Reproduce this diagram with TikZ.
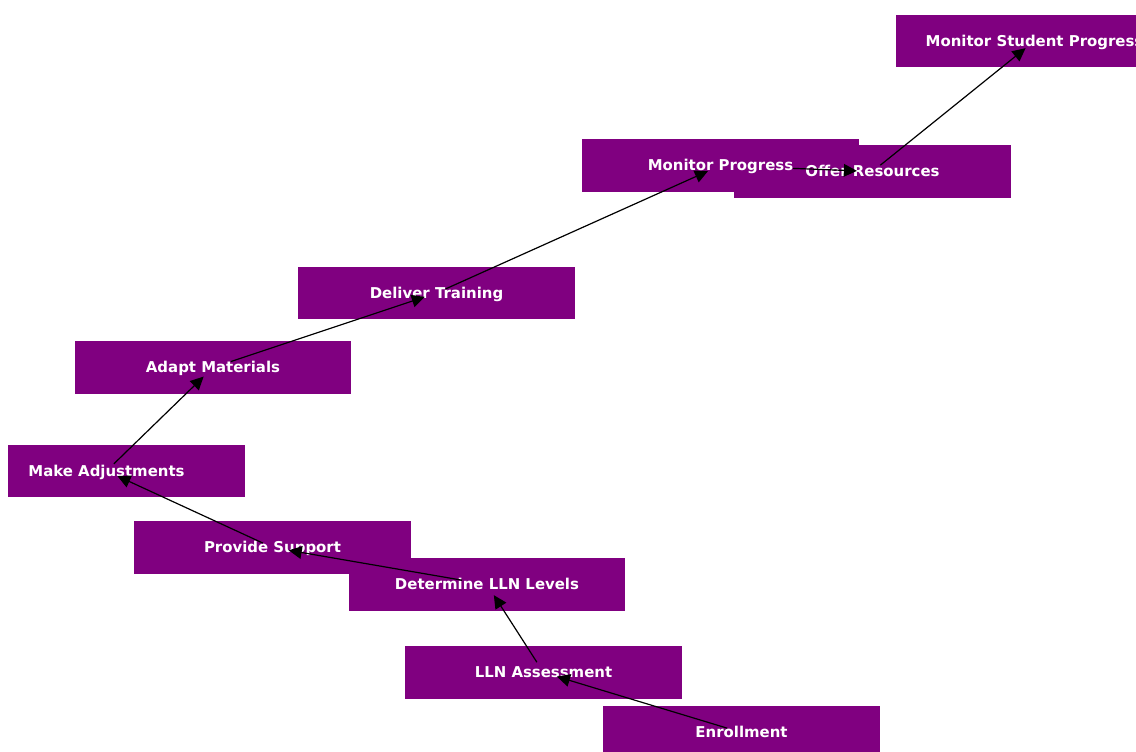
\documentclass[tikz,border=0pt]{standalone}
\usepackage{fontspec}
\setmainfont{DejaVu Sans}
\usetikzlibrary{arrows.meta,backgrounds}
\definecolor{stagefill}{HTML}{800080}

\begin{document}
\begin{tikzpicture}[x=0.75pt,y=-0.75pt,>={Triangle[length=9.8pt,width=9.5pt]},
                    shorten <=7.5pt,shorten >=9.5pt,line width=0.9pt]
  \tikzstyle{stage}=[shape=rectangle,minimum width=206.25pt,minimum height=38.25pt,
                     inner sep=0pt,text=white,text height=8.1pt,text depth=0pt,
                     font=\fontsize{11.2}{13}\selectfont\bfseries]
  \path[use as bounding box,clip] (0,0) rectangle (1136,752);

  \node[stage] (monstud)   at (1034.5,41)  {Monitor Student Progress};
  \node[stage] (monprog)   at (720.5,165.5) {Monitor Progress};
  \node[stage] (offer)     at (872.5,171.5) {Offer Resources};
  \node[stage] (deliver)   at (436.5,293)  {Deliver Training};
  \node[stage] (adapt)     at (213,367.5)  {Adapt Materials};
  \node[stage,minimum width=176.25pt] (adjust) at (106.5,471) {Make Adjustments};
  \node[stage] (support)   at (272.5,547.5) {Provide Support};
  \node[stage] (determine) at (487,584.5)  {Determine LLN Levels};
  \node[stage] (lln)       at (543.5,672.5) {LLN Assessment};
  \node[stage] (enroll)    at (741.5,732.5) {Enrollment};

  % boxes go behind every label
  \begin{scope}[on background layer]
    \clip (0,0) rectangle (1136,752);
    \foreach \n/\s in {monprog/0pt,offer/0pt,monstud/0pt,deliver/0pt,adapt/0pt,
                       adjust/15pt,support/0pt,determine/0pt,lln/0pt,enroll/0pt}
      \fill[stagefill] ([xshift=\s]\n.south west) rectangle ([xshift=\s]\n.north east);
  \end{scope}

  \path[->] (enroll.center)    edge [shorten <=11.25pt,shorten >=10.5pt] (lln.center)
            (lln.center)       edge [shorten <=9.2pt]                    (determine.center)
            (determine.center) edge [shorten <=19pt,shorten >=12.3pt]    (support.center)
            (support.center)   edge [shorten <=7.9pt,shorten >=9pt]      (adjust.center)
            (adjust.center)    edge [shorten <=7.7pt,shorten >=9.8pt]    (adapt.center)
            (adapt.center)     edge [shorten <=14pt,shorten >=9.2pt]     (deliver.center)
            (deliver.center)   edge [shorten <=7.4pt,shorten >=10.3pt]   (monprog.center)
            (monprog.center)   edge [shorten <=54.4pt,shorten >=11.7pt]  (offer.center)
            (offer.center)     edge [shorten <=7.5pt,shorten >=8.6pt]    (monstud.center);
\end{tikzpicture}
\end{document}
